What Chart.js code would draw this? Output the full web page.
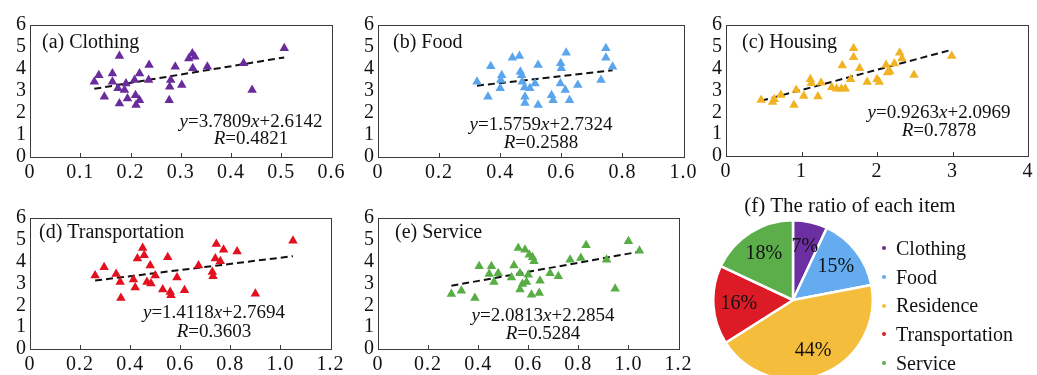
<!DOCTYPE html>
<html>
<head>
<meta charset="utf-8">
<script src="https://cdn.jsdelivr.net/npm/chart.js@4.4.1/dist/chart.umd.min.js"></script>
<style>
  body { margin: 0; width: 1037px; height: 375px; overflow: hidden; background: #fff; position: relative;
         font-family: 'Liberation Serif', 'Times New Roman', serif; color: #111; }
  canvas { position: absolute; }
  #pieTitle { position: absolute; left: 700px; width: 300px; top: 192px; text-align: center; font-size: 21px; line-height: 26px; }
  #legend { position: absolute; left: 882px; top: 234px; font-size: 20px; line-height: 28.7px; }
  #legend div { display: flex; align-items: center; }
  #legend span.dot { width: 4px; height: 4px; border-radius: 50%; margin-right: 10px; display: inline-block; }
</style>
</head>
<body>
<canvas id="a" width="348" height="185" style="left:0;top:0"></canvas>
<canvas id="b" width="355" height="185" style="left:345px;top:0"></canvas>
<canvas id="c" width="342" height="185" style="left:695px;top:0"></canvas>
<canvas id="d" width="347" height="182" style="left:0;top:193px"></canvas>
<canvas id="e" width="350" height="182" style="left:345px;top:193px"></canvas>
<canvas id="pie" width="162" height="162" style="left:712px;top:219px"></canvas>
<div id="pieTitle">(f) The ratio of each item</div>
<div id="legend"></div>
<script>
const FAMILY = "'Liberation Serif', 'Times New Roman', serif"

// data
const panelNames = ['(a) Clothing', '(b) Food', '(c) Housing', '(d) Transportation', '(e) Service']
const clothingX = [0.128,0.137,0.148,0.164,0.164,0.175,0.178,0.178,0.188,0.191,0.194,0.208,0.210,0.211,0.218,0.218,0.236,0.237,0.277,0.278,0.280,0.289,0.302,0.316,0.323,0.328,0.324,0.353,0.425,0.442,0.506]
const clothingY = [3.42,3.72,2.74,3.80,3.42,3.12,4.59,2.43,3.04,3.34,2.66,3.50,2.81,2.36,2.58,3.80,3.50,4.18,2.58,3.19,3.50,4.10,3.27,4.48,4.71,4.56,4.03,4.10,4.26,3.04,4.94]
const foodX = [0.324,0.360,0.369,0.400,0.405,0.402,0.440,0.463,0.466,0.470,0.472,0.480,0.481,0.481,0.497,0.514,0.524,0.524,0.568,0.573,0.597,0.598,0.600,0.616,0.613,0.627,0.654,0.730,0.746,0.746,0.768]
const foodY = [3.42,2.74,4.13,3.12,3.72,3.50,4.51,4.59,3.88,3.72,3.42,3.16,2.74,2.46,3.12,3.34,4.18,2.36,2.81,2.58,3.34,4.26,4.03,4.74,3.04,2.58,3.27,3.50,4.94,4.51,4.10]
const housingX = [0.465,0.617,0.639,0.726,0.900,0.930,1.030,1.117,1.130,1.217,1.260,1.400,1.465,1.530,1.540,1.580,1.650,1.690,1.690,1.770,1.870,2.000,2.030,2.120,2.140,2.170,2.230,2.300,2.330,2.490,2.990]
const housingY = [2.56,2.47,2.60,2.79,2.34,3.02,2.75,3.51,3.33,2.72,3.36,3.15,3.08,3.08,4.14,3.08,3.51,4.93,4.52,4.02,3.39,3.51,3.39,4.17,3.82,3.87,4.24,4.73,4.47,3.71,4.58]
const transX = [0.260,0.296,0.344,0.360,0.363,0.413,0.420,0.429,0.450,0.456,0.467,0.480,0.483,0.500,0.530,0.550,0.560,0.563,0.587,0.617,0.673,0.728,0.731,0.744,0.740,0.760,0.773,0.827,0.900,1.050]
const transY = [3.37,3.74,3.44,3.07,2.34,3.18,2.82,4.14,4.63,4.29,3.07,3.83,3.00,3.37,2.72,4.20,2.61,2.46,3.28,2.69,3.83,3.53,3.33,4.81,4.14,4.02,4.55,4.47,2.53,4.96]
const serviceX = [0.293,0.333,0.387,0.404,0.444,0.453,0.463,0.480,0.533,0.543,0.560,0.567,0.567,0.577,0.587,0.593,0.600,0.604,0.617,0.623,0.613,0.644,0.647,0.687,0.720,0.767,0.810,0.831,0.913,0.947,1.000,1.044]
const serviceY = [2.52,2.67,2.34,3.79,3.44,3.79,3.07,3.47,3.28,3.82,4.63,2.72,3.47,2.98,4.55,3.07,3.40,4.32,4.20,4.02,2.49,2.56,3.13,3.47,3.33,4.09,4.17,4.75,4.09,2.76,4.93,4.50]

const slopes = [3.7809, 1.5759, 0.9263, 1.4118, 2.0813]
const intercepts = [2.6142, 2.7324, 2.0969, 2.7694, 2.2854]
const rValues = ['0.4821', '0.2588', '0.7878', '0.3603', '0.5284']

const yTicks = ['0', '1', '2', '3', '4', '5', '6']
const ticksA = ['0', '0.1', '0.2', '0.3', '0.4', '0.5', '0.6']
const ticksB = ['0', '0.2', '0.4', '0.6', '0.8', '1.0']
const ticksC = ['0', '1', '2', '3', '4']
const ticksDE = ['0', '0.2', '0.4', '0.6', '0.8', '1.0', '1.2']

const pieLabels = ['Clothing', 'Food', 'Residence', 'Transportation', 'Service']
const pieShares = [7, 15, 44, 16, 18]

const pointColors = ['#6a2c9c', '#5aa5ec', '#f2b322', '#e3101f', '#59ad45']
const pieColors = ['#6b2fa2', '#64abef', '#f5bd3c', '#dd1b26', '#5cae4a']

function drawParts(ctx, parts, cx, cy, size) {
  const fonts = parts.map(p => (p[1] ? 'italic ' : '') + size + 'px ' + FAMILY)
  let w = 0
  parts.forEach((p, i) => { ctx.font = fonts[i]; w += ctx.measureText(p[0]).width })
  let x = cx - w / 2
  ctx.textBaseline = 'middle'
  ctx.textAlign = 'left'
  parts.forEach((p, i) => {
    ctx.font = fonts[i]
    ctx.fillText(p[0], x, cy)
    x += ctx.measureText(p[0]).width
  })
}

function panelPlugin(k, lay) {
  return {
    id: 'panel' + k,
    beforeDraw(chart) { chart.ctx.letterSpacing = '1px' },
    beforeDatasetsDraw(chart) {
      const { ctx, chartArea: a, scales } = chart
      ctx.save()
      ctx.letterSpacing = '0px'
      ctx.strokeStyle = '#3a3a3a'
      ctx.lineWidth = 1
      ctx.strokeRect(Math.round(a.left) + 0.5, Math.round(a.top) + 0.5, Math.round(a.width), Math.round(a.height))
      scales.x.ticks.forEach(t => {
        const px = Math.round(scales.x.getPixelForValue(t.value)) + 0.5
        ctx.beginPath()
        ctx.moveTo(px, a.bottom)
        ctx.lineTo(px, a.bottom - 4)
        ctx.stroke()
      })
      ctx.restore()
    },
    afterDatasetsDraw(chart) {
      const { ctx, chartArea: a } = chart
      ctx.save()
      ctx.letterSpacing = '0px'
      ctx.fillStyle = '#111'
      ctx.font = '20px ' + FAMILY
      ctx.textAlign = 'left'
      ctx.textBaseline = 'middle'
      ctx.fillText(panelNames[k], a.left + lay.labelDx, a.top + lay.labelDy)
      const eq = [['y', true], ['=' + slopes[k].toFixed(4), false], ['x', true], ['+' + intercepts[k].toFixed(4), false]]
      drawParts(ctx, eq, a.left + lay.eqDx, a.top + lay.eqDy, 19)
      drawParts(ctx, [['R', true], ['=' + rValues[k], false]], a.left + lay.eqDx, a.top + lay.rDy, 19)
      ctx.restore()
    }
  }
}

function makePanel(id, k, xs, ys, xMax, xStep, xLabels, lay) {
  const pts = xs.map((x, i) => ({ x: x, y: ys[i] }))
  const lo = Math.min(...xs)
  const hi = Math.max(...xs)
  const trend = [lo, hi].map(x => ({ x: x, y: slopes[k] * x + intercepts[k] }))
  const tickFont = { family: FAMILY, size: 20 }
  new Chart(document.getElementById(id), {
    type: 'scatter',
    data: {
      datasets: [
        {
          data: pts,
          pointStyle: 'triangle',
          pointRadius: 5.5,
          pointBorderWidth: 0,
          backgroundColor: pointColors[k],
          borderColor: pointColors[k],
        },
        {
          type: 'line',
          data: trend,
          borderColor: '#111',
          borderWidth: 2,
          borderDash: [7, 4],
          pointRadius: 0,
          fill: false,
        },
      ],
    },
    options: {
      responsive: false,
      animation: false,
      layout: { padding: { top: 25, right: lay.padR, left: 0, bottom: 0 } },
      scales: {
        x: {
          type: 'linear',
          min: 0,
          max: xMax,
          grid: { display: false, drawTicks: false },
          border: { display: false },
          afterFit(s) { s.height = lay.xH },
          ticks: {
            stepSize: xStep,
            autoSkip: false,
            maxRotation: 0,
            padding: 4,
            color: '#111',
            font: tickFont,
            callback: (v, i) => xLabels[i],
          },
        },
        y: {
          min: 0,
          max: 6,
          grid: { display: false, drawTicks: false },
          border: { display: false },
          afterFit(s) { s.width = lay.yW },
          ticks: {
            stepSize: 1,
            autoSkip: false,
            padding: 3,
            color: '#111',
            font: tickFont,
            callback: (v, i) => yTicks[i],
          },
        },
      },
      plugins: { legend: { display: false }, tooltip: { enabled: false } },
    },
    plugins: [panelPlugin(k, lay)],
  })
}

makePanel('a', 0, clothingX, clothingY, 0.6, 0.1, ticksA,
  { yW: 30, xH: 28, padR: 15, labelDx: 12, labelDy: 18, eqDx: 221, eqDy: 97, rDy: 114 })
makePanel('b', 1, foodX, foodY, 1.0, 0.2, ticksB,
  { yW: 33, xH: 28, padR: 15, labelDx: 15, labelDy: 18, eqDx: 163, eqDy: 100, rDy: 118 })
makePanel('c', 2, housingX, housingY, 4, 1, ticksC,
  { yW: 31, xH: 29, padR: 5, labelDx: 16, labelDy: 18, eqDx: 213, eqDy: 88, rDy: 106 })
makePanel('d', 3, transX, transY, 1.2, 0.2, ticksDE,
  { yW: 30, xH: 26, padR: 15, labelDx: 9, labelDy: 15, eqDx: 184, eqDy: 95, rDy: 114 })
makePanel('e', 4, serviceX, serviceY, 1.2, 0.2, ticksDE,
  { yW: 33, xH: 26, padR: 15, labelDx: 17, labelDy: 15, eqDx: 165, eqDy: 98, rDy: 116 })

const pieText = {
  id: 'pieText',
  afterDatasetsDraw(chart) {
    const ctx = chart.ctx
    ctx.save()
    ctx.fillStyle = '#111'
    ctx.font = '20px ' + FAMILY
    ctx.textAlign = 'center'
    ctx.textBaseline = 'middle'
    chart.getDatasetMeta(0).data.forEach((arc, i) => {
      const p = arc.getProps(['x', 'y', 'startAngle', 'endAngle', 'outerRadius'], true)
      const mid = (p.startAngle + p.endAngle) / 2
      ctx.fillText(pieShares[i] + '%', p.x + Math.cos(mid) * p.outerRadius * 0.68, p.y + Math.sin(mid) * p.outerRadius * 0.68)
    })
    ctx.restore()
  }
}

new Chart(document.getElementById('pie'), {
  type: 'pie',
  data: {
    labels: pieLabels,
    datasets: [{ data: pieShares, backgroundColor: pieColors, borderColor: '#fff', borderWidth: 2.5 }],
  },
  options: {
    responsive: false,
    animation: false,
    plugins: { legend: { display: false }, tooltip: { enabled: false } },
  },
  plugins: [pieText],
})

const legend = document.getElementById('legend')
pieLabels.forEach((name, i) => {
  const row = document.createElement('div')
  const dot = document.createElement('span')
  dot.className = 'dot'
  dot.style.background = pieColors[i]
  row.appendChild(dot)
  row.appendChild(document.createTextNode(name))
  legend.appendChild(row)
})
</script>
</body>
</html>
